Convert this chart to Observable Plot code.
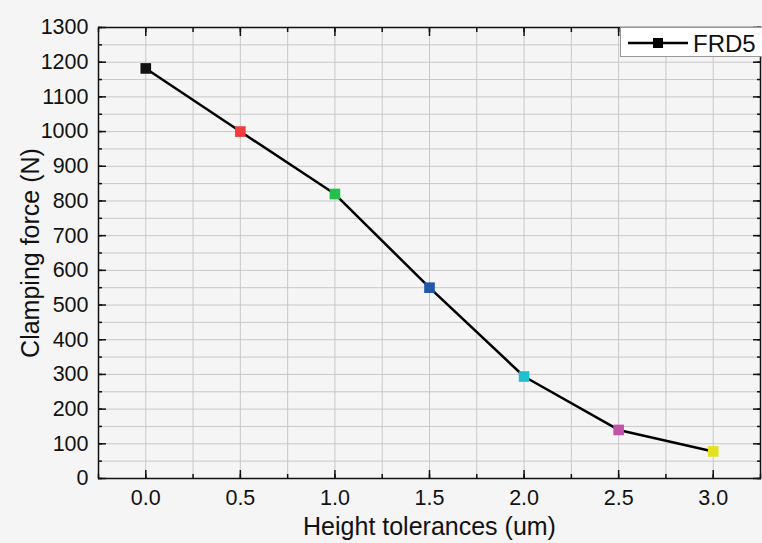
<!DOCTYPE html>
<html><head><meta charset="utf-8">
<script src="https://cdn.jsdelivr.net/npm/d3@7"></script>
<script src="https://cdn.jsdelivr.net/npm/@observablehq/plot@0.6"></script>
<style>
html,body{margin:0;padding:0;background:#f5f5f5;}
#wrap{position:relative;width:762px;height:543px;font-family:"Liberation Sans",Arial,sans-serif;}
#legend{position:absolute;left:620px;top:27px;width:150px;height:30px;background:#fff;border:1px solid #999;box-sizing:border-box;}
#legend svg{position:absolute;left:0;top:0;}
</style></head><body>
<div id="wrap"></div>
<script>
const tolerances = [0.0, 0.5, 1.0, 1.5, 2.0, 2.5, 3.0];
const clampingForce = [1182, 1000, 820, 550, 294, 140, 78];
const pointColors = ["#111111", "#f23c3c", "#22c04a", "#2358a8", "#20bfd0", "#c452a8", "#e2e21e"];
const xTicks = [0.0, 0.5, 1.0, 1.5, 2.0, 2.5, 3.0];
const yTicks = [0,100,200,300,400,500,600,700,800,900,1000,1100,1200,1300];
const seriesName = "FRD5";

const data = tolerances.map((t,i)=>({x:t, y:clampingForce[i], c:pointColors[i]}));
const xMinor = d3.range(-0.25, 3.2501, 0.25);
const yMinor = d3.range(0, 1300.01, 50);

const font = '"Liberation Sans", Arial, sans-serif';
const tk = (ticks, anchor, size) => (anchor === "bottom" || anchor === "top")
  ? Plot.axisX(ticks, {anchor, tickSize: size, text: null, strokeWidth: 1.5, label: null})
  : Plot.axisY(ticks, {anchor, tickSize: size, text: null, strokeWidth: 1.5, label: null});
const chart = Plot.plot({
  width: 762, height: 543,
  marginLeft: 98, marginRight: 2, marginTop: 27, marginBottom: 65,
  style: {background: "transparent", fontFamily: font, color: "#111"},
  x: {domain: [-0.25, 3.25], label: null},
  y: {domain: [0, 1300], label: null},
  marks: [
    Plot.ruleX(xMinor, {stroke: "#c8c8cc", strokeWidth: 1}),
    Plot.ruleY(yMinor, {stroke: "#c8c8cc", strokeWidth: 1}),
    tk(xMinor, "bottom", -4), tk(xMinor, "top", -4), tk(yMinor, "left", -4), tk(yMinor, "right", -4),
    tk(xTicks, "bottom", -8), tk(xTicks, "top", -8), tk(yTicks, "left", -8), tk(yTicks, "right", -8),
    Plot.axisX(xTicks, {anchor: "bottom", tickSize: 0, tickPadding: 11, fontSize: 21.5, tickFormat: d3.format(".1f"), label: null}),
    Plot.axisY(yTicks, {anchor: "left", tickSize: 0, tickPadding: 10, fontSize: 21.5, tickFormat: d=>String(d), label: null}),
    Plot.frame({stroke: "#111", strokeWidth: 1.5}),
    Plot.text(["Height tolerances (um)"], {frameAnchor: "bottom", dy: 48, fontSize: 25, lineAnchor: "middle", fill: "#111"}),
    Plot.text(["Clamping force (N)"], {frameAnchor: "left", dx: -68, rotate: -90, fontSize: 25, lineAnchor: "middle", textAnchor: "middle", fill: "#111"}),
    Plot.line(data, {x: "x", y: "y", stroke: "#000", strokeWidth: 2.5}),
    Plot.dot(data, {x: "x", y: "y", symbol: "square", r: 6, fill: "c", stroke: "none"})
  ]
});
const wrap = document.getElementById("wrap");
wrap.appendChild(chart);
const leg = document.createElement("div");
leg.id = "legend";
leg.innerHTML = `<svg width="150" height="30"><line x1="7" y1="15" x2="67" y2="15" stroke="#000" stroke-width="2.5"/><rect x="32" y="10" width="10" height="10" fill="#000"/><text x="72" y="23.5" font-size="24" font-family='${font}' fill="#111">${seriesName}</text></svg>`;
wrap.appendChild(leg);
</script>
</body></html>
